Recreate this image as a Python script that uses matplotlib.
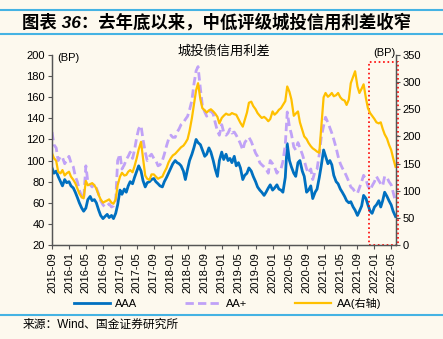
import matplotlib
matplotlib.use("Agg")
import matplotlib.pyplot as plt
import matplotlib.dates as mdates
from matplotlib.patches import Rectangle
from matplotlib.lines import Line2D
import pandas as pd

plt.rcParams['font.family'] = ['Liberation Sans', 'Noto Sans CJK SC']
plt.rcParams['axes.unicode_minus'] = False

# half-monthly readings, 2015-09-01 .. 2022-06-01
dates = pd.date_range('2015-09-01', '2022-06-01', freq='SMS')

aaa = [
    93, 88, 90, 85, 80, 76, 82, 79, 80, 76, 74, 70,      # 2015-09 .. 2016-02
    65, 60, 55, 52, 55, 63, 66, 62, 63, 60, 53, 48,      # 2016-03 .. 2016-08
    45, 47, 49, 46, 48, 45, 50, 58, 72, 68, 73, 70,      # 2016-09 .. 2017-02
    76, 80, 78, 84, 90, 95, 90, 81, 75, 79, 80, 82,      # 2017-03 .. 2017-08
    83, 80, 78, 76, 75, 80, 84, 88, 93, 97, 100, 98,     # 2017-09 .. 2018-02
    97, 95, 90, 82, 92, 100, 106, 112, 120, 117, 115, 110,  # 2018-03 .. 2018-08
    104, 106, 112, 108, 100, 92, 85, 100, 108, 101, 106, 100,  # 2018-09 .. 2019-02
    102, 98, 104, 95, 98, 93, 82, 86, 88, 93, 90, 85,    # 2019-03 .. 2019-08
    80, 75, 72, 70, 67, 70, 74, 77, 72, 74, 77, 73,      # 2019-09 .. 2020-02
    72, 70, 84, 116, 100, 94, 88, 85, 98, 100, 90, 85,   # 2020-03 .. 2020-08
    70, 72, 76, 64, 70, 73, 84, 95, 110, 104, 97, 100,   # 2020-09 .. 2021-02
    96, 86, 80, 78, 73, 70, 66, 62, 60, 61, 56, 53,      # 2021-03 .. 2021-08
    48, 52, 57, 67, 64, 58, 52, 50, 56, 58, 62, 56,      # 2021-09 .. 2022-02
    62, 70, 66, 62, 58, 52, 47,                          # 2022-03 .. 2022-06
]

aa_plus = [
    127, 115, 112, 100, 104, 103, 97, 100, 104, 98, 94, 85,
    80, 72, 66, 63, 95, 80, 77, 75, 78, 74, 68, 62,
    58, 56, 57, 59, 56, 57, 62, 100, 106, 92, 96, 101,
    104, 108, 102, 110, 122, 130, 133, 120, 108, 100, 104, 106,
    102, 100, 95, 96, 100, 106, 114, 120, 124, 122, 122, 127,
    130, 134, 136, 139, 142, 148, 157, 172, 185, 189, 168, 152,
    146, 142, 146, 147, 144, 136, 128, 124, 134, 127, 124, 126,
    130, 126, 127, 124, 120, 116, 110, 117, 120, 122, 118, 113,
    107, 104, 98, 96, 94, 92, 88, 100, 97, 94, 88, 91,
    92, 99, 115, 146, 132, 125, 113, 110, 117, 112, 106, 100,
    92, 88, 92, 82, 90, 92, 106, 122, 133, 141, 136, 131,
    126, 120, 112, 104, 97, 93, 89, 85, 80, 75, 73, 70,
    69, 74, 80, 86, 82, 76, 72, 76, 80, 85, 81, 78,
    76, 85, 84, 80, 77, 70, 61,
]

# AA is read against the right axis
aa = [
    169, 160, 155, 135, 132, 138, 128, 132, 135, 126, 120, 114,
    104, 95, 88, 86, 118, 110, 112, 114, 110, 104, 92, 84,
    78, 80, 82, 84, 78, 76, 84, 110, 126, 133, 128, 129,
    135, 138, 134, 145, 160, 176, 190, 160, 128, 122, 120, 130,
    130, 126, 122, 124, 126, 134, 142, 152, 160, 165, 168, 172,
    176, 180, 183, 188, 195, 210, 234, 258, 285, 298, 268, 252,
    248, 244, 248, 250, 246, 242, 236, 224, 234, 238, 242, 240,
    240, 243, 241, 240, 232, 225, 218, 230, 244, 262, 264, 256,
    250, 243, 238, 234, 236, 233, 228, 232, 246, 240, 244, 249,
    252, 258, 265, 292, 282, 268, 238, 242, 246, 226, 212, 200,
    195, 188, 182, 178, 175, 172, 170, 215, 272, 280, 273, 276,
    280, 274, 276, 280, 272, 268, 266, 258, 268, 298, 310, 320,
    292, 280, 288, 296, 270, 252, 243, 238, 232, 226, 224, 226,
    214, 204, 196, 185, 175, 160, 144,
]

series_labels = ['AAA', 'AA+', 'AA(右轴)']

bg = '#FDF9EE'
sky = '#45B3E3'
blue = '#0070C0'
lavender = '#C0A2F7'
gold = '#FFC000'
spine_c = '#555555'

fig = plt.figure(figsize=(4.43, 3.39), dpi=100, facecolor=bg)
ax = fig.add_axes([0.1174, 0.2773, 0.7754, 0.5605], facecolor=bg)
ax2 = ax.twinx()

ax.plot(dates, aaa, color=blue, lw=2.0)
ax.plot(dates, aa_plus, color=lavender, lw=2.0, dashes=(3, 1.5))
ax2.plot(dates, aa, color=gold, lw=1.6)

ax.set_ylim(20, 200)
ax.set_yticks(range(20, 201, 20))
ax2.set_ylim(0, 350)
ax2.set_yticks(range(0, 351, 50))
ax.set_xlim(pd.Timestamp('2015-09-01'), pd.Timestamp('2022-06-01'))
ax.xaxis.set_major_locator(mdates.MonthLocator(bymonth=[1, 5, 9]))
ax.xaxis.set_major_formatter(mdates.DateFormatter('%Y-%m'))
for lab in ax.get_xticklabels():
    lab.set_rotation(90)

for a in (ax, ax2):
    a.spines['top'].set_visible(False)
    for s in ('left', 'right', 'bottom'):
        a.spines[s].set_color(spine_c)
        a.spines[s].set_linewidth(0.9)
    a.tick_params(labelsize=8, length=3, width=0.8, color=spine_c, pad=2)

ax.text(0.015, 0.985, '(BP)', transform=ax.transAxes, fontsize=8,
        ha='left', va='center')
ax2.text(1.0, 1.01, '(BP)', transform=ax2.transAxes, fontsize=8,
         ha='right', va='center')
ax.text(0.5, 1.02, '城投债信用利差', transform=ax.transAxes, fontsize=9.5,
        ha='center', va='center')

# dotted box around the period since late 2021
box = Rectangle((mdates.date2num(pd.Timestamp('2021-11-25')), 20),
                mdates.date2num(pd.Timestamp('2022-06-18')) - mdates.date2num(pd.Timestamp('2021-11-25')),
                173, fill=False, edgecolor='#FF0000', lw=1.2, ls=':',
                clip_on=False, zorder=5)
ax.add_patch(box)

handles = [Line2D([], [], color=blue, lw=2.0),
           Line2D([], [], color=lavender, lw=2.0, dashes=(3, 1.5)),
           Line2D([], [], color=gold, lw=1.6)]
fig.legend(handles, series_labels, loc='center', bbox_to_anchor=(0.514, 0.106),
           ncol=3, frameon=False, fontsize=8, handlelength=3.2,
           columnspacing=4.3, handletextpad=0.5)

# header / footer
fig.add_artist(Line2D([0, 1], [0.9705, 0.9705], color=sky, lw=1.5))
fig.add_artist(Line2D([0, 1], [0.8997, 0.8997], color=sky, lw=1.5))
fig.add_artist(Line2D([0, 1], [0.0708, 0.0708], color=sky, lw=1.5))
fig.text(0.05, 0.935, '图表 36：去年底以来，中低评级城投信用利差收窄',
         fontsize=12.5, fontweight='bold', style='italic', ha='left', va='center')
fig.text(0.05, 0.041, '来源：Wind、国金证券研究所', fontsize=8.5,
         ha='left', va='center')

fig.savefig('out.png', dpi=100, facecolor=bg)
